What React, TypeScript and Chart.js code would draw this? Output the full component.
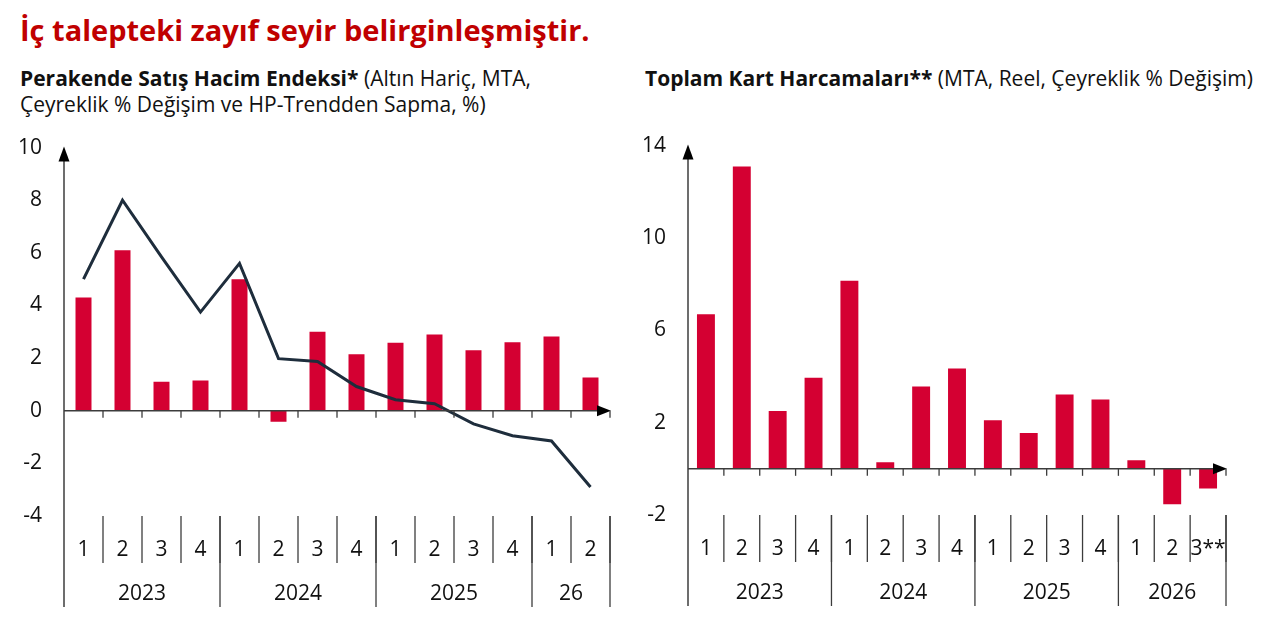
import { useEffect, useRef } from "react"
import { Chart, registerables } from "chart.js"

Chart.register(...registerables)

// Perakende satış hacim endeksi (sol grafik)
const retailQuarters = ["1", "2", "3", "4", "1", "2", "3", "4", "1", "2", "3", "4", "1", "2"]
const retailYears = ["2023", "2024", "2025", "26"]
const retailYearSpans = [4, 4, 4, 2]
const retailChange = [4.3, 6.1, 1.1, 1.15, 5.0, -0.42, 3.0, 2.15, 2.58, 2.9, 2.3, 2.6, 2.82, 1.26]
const retailTrendGap = [5.0, 8.0, 5.85, 3.75, 5.6, 1.98, 1.87, 0.92, 0.42, 0.27, -0.5, -0.95, -1.15, -2.9]

// Toplam kart harcamaları (sağ grafik)
const cardQuarters = ["1", "2", "3", "4", "1", "2", "3", "4", "1", "2", "3", "4", "1", "2", "3**"]
const cardYears = ["2023", "2024", "2025", "2026"]
const cardYearSpans = [4, 4, 4, 3]
const cardChange = [6.7, 13.1, 2.5, 3.95, 8.15, 0.28, 3.57, 4.35, 2.1, 1.55, 3.22, 3.0, 0.37, -1.53, -0.85]

const FONT = "'Open Sans', sans-serif"
const RED = "rgb(212, 0, 50)"
const AXIS = "#3c3c3c"
const TEXT = "#111"
const TICK_SIZE = 21

const quarterAxis = {
  id: "quarterAxis",
  afterDatasetsDraw(chart: any, _args: any, opts: any) {
    const { ctx, chartArea, scales } = chart
    const xs = scales.x
    const ys = scales.y
    const n = chart.data.labels.length
    const step = (chartArea.right - chartArea.left) / n
    const zero = ys.getPixelForValue(0)
    const bottom = chartArea.bottom
    const axisX = chartArea.left
    const right = xs.getPixelForValue(n - 1) + step / 2

    ctx.save()
    ctx.strokeStyle = AXIS
    ctx.fillStyle = "#000"
    ctx.lineWidth = 1.5

    // y ekseni (yıl ayracı ile birlikte aşağı uzanır)
    ctx.beginPath()
    ctx.moveTo(axisX, chartArea.top + 10)
    ctx.lineTo(axisX, bottom + 91)
    ctx.stroke()
    ctx.beginPath()
    ctx.moveTo(axisX, chartArea.top - 1)
    ctx.lineTo(axisX - 5.5, chartArea.top + 14)
    ctx.lineTo(axisX + 5.5, chartArea.top + 14)
    ctx.closePath()
    ctx.fill()

    // x ekseni
    ctx.beginPath()
    ctx.moveTo(axisX, zero)
    ctx.lineTo(right - 8, zero)
    ctx.stroke()
    ctx.beginPath()
    ctx.moveTo(right + 1, zero)
    ctx.lineTo(right - 13, zero - 5.5)
    ctx.lineTo(right - 13, zero + 5.5)
    ctx.closePath()
    ctx.fill()

    // eksen üzerindeki çentikler ve çeyrek ayraçları
    ctx.lineWidth = 1.3
    for (let i = 0; i < n; i++) {
      const bx = xs.getPixelForValue(i) + step / 2
      ctx.beginPath()
      ctx.moveTo(bx, zero)
      ctx.lineTo(bx, zero + 7)
      ctx.stroke()
      ctx.beginPath()
      ctx.moveTo(bx, bottom)
      ctx.lineTo(bx, bottom + 47)
      ctx.stroke()
    }

    ctx.font = `${TICK_SIZE}px ${FONT}`
    ctx.fillStyle = TEXT
    ctx.textAlign = "center"
    ctx.textBaseline = "middle"
    chart.data.labels.forEach((lab: string, i: number) => {
      ctx.fillText(lab, xs.getPixelForValue(i), bottom + 34)
    })

    // yıllar
    let start = 0
    opts.years.forEach((yr: string, k: number) => {
      const span = opts.spans[k]
      const l = xs.getPixelForValue(start) - step / 2
      const r = xs.getPixelForValue(start + span - 1) + step / 2
      ctx.beginPath()
      ctx.moveTo(r, bottom)
      ctx.lineTo(r, bottom + 91)
      ctx.stroke()
      ctx.fillText(yr, (l + r) / 2, bottom + 78)
      start += span
    })
    ctx.restore()
  },
}

function makeOptions(min: number, max: number, stepSize: number, axisWidth: number, pad: any, years: string[], spans: number[]): any {
  return {
    responsive: false,
    animation: false,
    layout: { padding: pad },
    plugins: {
      legend: { display: false },
      tooltip: { enabled: false },
      quarterAxis: { years, spans },
    },
    scales: {
      x: { display: false, offset: true },
      y: {
        min,
        max,
        afterFit: (scale: any) => {
          scale.width = axisWidth
        },
        grid: { display: false, drawTicks: false },
        border: { display: false },
        ticks: { stepSize, padding: 22, color: TEXT, font: { family: FONT, size: TICK_SIZE } },
      },
    },
  }
}

function RetailChart() {
  const ref = useRef<HTMLCanvasElement>(null)
  useEffect(() => {
    if (!ref.current) return
    const chart = new Chart(ref.current, {
      type: "bar",
      data: {
        labels: retailQuarters,
        datasets: [
          {
            type: "line",
            data: retailTrendGap,
            borderColor: "#1e2d3c",
            borderWidth: 3,
            pointRadius: 0,
            tension: 0,
            order: 0,
          },
          {
            type: "bar",
            data: retailChange,
            backgroundColor: RED,
            barPercentage: 0.41,
            categoryPercentage: 1,
            order: 1,
          },
        ],
      } as any,
      options: makeOptions(-4, 10, 2, 64, { top: 3, right: 20, bottom: 109, left: 0 }, retailYears, retailYearSpans),
      plugins: [quarterAxis],
    })
    return () => chart.destroy()
  }, [])
  return <canvas ref={ref} width={630} height={512} style={{ position: "absolute", left: 0, top: 113 }} />
}

function CardChart() {
  const ref = useRef<HTMLCanvasElement>(null)
  useEffect(() => {
    if (!ref.current) return
    const chart = new Chart(ref.current, {
      type: "bar",
      data: {
        labels: cardQuarters,
        datasets: [
          {
            data: cardChange,
            backgroundColor: RED,
            barPercentage: 0.5,
            categoryPercentage: 1,
          },
        ],
      },
      options: makeOptions(-2, 14, 4, 58, { top: 0, right: 36, bottom: 109, left: 0 }, cardYears, cardYearSpans),
      plugins: [quarterAxis],
    })
    return () => chart.destroy()
  }, [])
  return <canvas ref={ref} width={632} height={513} style={{ position: "absolute", left: 630, top: 111 }} />
}

export default function App() {
  useEffect(() => {
    document.body.style.margin = "0"
  }, [])
  const sub = { position: "absolute" as const, fontFamily: FONT, fontSize: 21, lineHeight: "26px", color: TEXT, whiteSpace: "nowrap" as const }
  return (
    <div style={{ position: "relative", width: 1262, height: 623, background: "#fff", overflow: "hidden" }}>
      <div style={{ position: "absolute", left: 20, top: 10, lineHeight: "40px", fontFamily: FONT, fontWeight: 700, fontSize: 29, color: "#c00000", whiteSpace: "nowrap" }}>
        İç talepteki zayıf seyir belirginleşmiştir.
      </div>
      <div style={{ ...sub, left: 20, top: 65 }}>
        <b>Perakende Satış Hacim Endeksi*</b> (Altın Hariç, MTA,
        <br />
        Çeyreklik % Değişim ve HP-Trendden Sapma, %)
      </div>
      <div style={{ ...sub, left: 645, top: 65 }}>
        <b>Toplam Kart Harcamaları**</b> (MTA, Reel, Çeyreklik % Değişim)
      </div>
      <RetailChart />
      <CardChart />
    </div>
  )
}
